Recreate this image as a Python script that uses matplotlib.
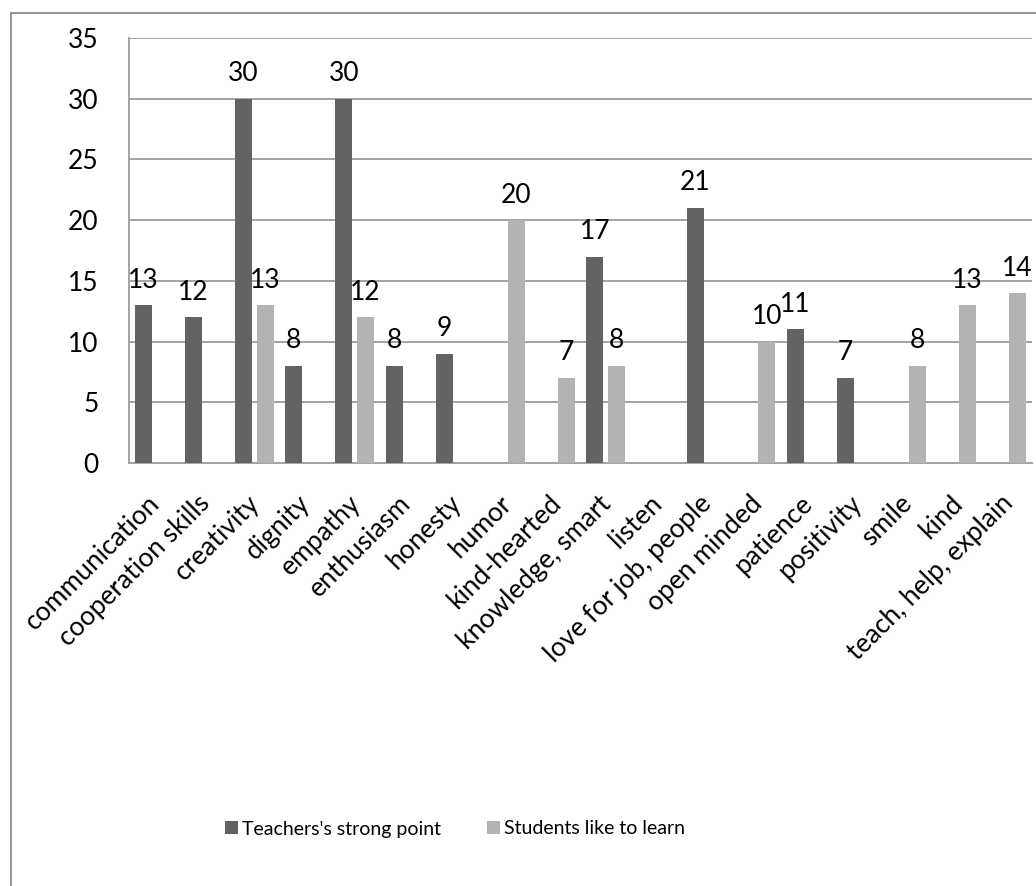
import numpy as np
import matplotlib
matplotlib.use("Agg")
import matplotlib.pyplot as plt
from matplotlib.lines import Line2D
from matplotlib.patches import Patch
import matplotlib.transforms as mtransforms

categories = ["communication", "cooperation skills", "creativity", "dignity", "empathy",
              "enthusiasm", "honesty", "humor", "kind-hearted", "knowledge, smart", "listen",
              "love for job, people", "open minded", "patience", "positivity", "smile", "kind",
              "teach, help, explain"]
nan = np.nan
teachers = [13, 12, 30, 8, 30, 8, 9, nan, nan, 17, nan, 21, nan, 11, 7, nan, nan, nan]
students = [nan, nan, 13, nan, 12, nan, nan, 20, 7, 8, nan, nan, 10, nan, nan, 8, 13, 14]
series_names = ["Teachers's strong point", "Students like to learn"]
yticks = [0, 5, 10, 15, 20, 25, 30, 35]

DARK = "#636363"
LIGHT = "#b3b3b3"
GRID = "#a3a3a3"
FONT = "Lato"

plt.rcParams['font.family'] = [FONT, 'DejaVu Sans']

W, H = 1036, 886
fig = plt.figure(figsize=(W / 100, H / 100), dpi=100)
left, right, top, bottom = 129, 1032, 38, 463
ax = fig.add_axes([left / W, 1 - bottom / H, (right - left) / W, (bottom - top) / H])

x = np.arange(len(categories))
bw = 0.34
off = 0.215
ax.bar(x - off, teachers, width=bw, color=DARK, zorder=3)
ax.bar(x + off, students, width=bw, color=LIGHT, zorder=3)

for xs, vals in ((x - off, teachers), (x + off, students)):
    for xi, v in zip(xs, vals):
        if not np.isnan(v):
            ax.annotate(f"{int(v)}", (xi, v), xytext=(0, 9), textcoords="offset points",
                        ha="center", va="bottom", fontsize=19, color="black", zorder=4)

ax.set_xlim(-0.5, len(categories) - 0.5)
ax.set_ylim(0, 35)
ax.set_yticks(yticks)
ax.set_yticklabels([str(t) for t in yticks], fontsize=19)
ax.tick_params(axis="y", length=0, pad=22)
ax.set_xticks(x)
ax.set_xticklabels(categories, rotation=45, ha="right", rotation_mode="anchor", fontsize=19)
ax.tick_params(axis="x", length=0, pad=20)
shift = mtransforms.ScaledTranslation(-7 / 100, 0, fig.dpi_scale_trans)
for lbl in ax.get_xticklabels():
    lbl.set_transform(lbl.get_transform() + shift)

ax.grid(axis="y", color=GRID, linewidth=1.4, zorder=0)
ax.set_axisbelow(True)
for s in ("top", "right"):
    ax.spines[s].set_visible(False)
for s in ("left", "bottom"):
    ax.spines[s].set_color(GRID)
    ax.spines[s].set_linewidth(1.4)

# outer chart frame (partially visible)
fx, fy = 10.5 / W, 1 - 12.5 / H
fig.add_artist(Line2D([fx, fx], [0, fy], transform=fig.transFigure, color="#8c8c8c", lw=1.3))
fig.add_artist(Line2D([fx, 1], [fy, fy], transform=fig.transFigure, color="#8c8c8c", lw=1.3))

handles = [Patch(facecolor=DARK), Patch(facecolor=LIGHT)]
fig.legend(handles, series_names, loc="center", bbox_to_anchor=(455 / W, 1 - 829 / H),
           ncol=2, frameon=False, fontsize=14, handlelength=0.65, handleheight=0.65,
           handletextpad=0.2, columnspacing=2.4)

fig.savefig("out.png", dpi=100)
